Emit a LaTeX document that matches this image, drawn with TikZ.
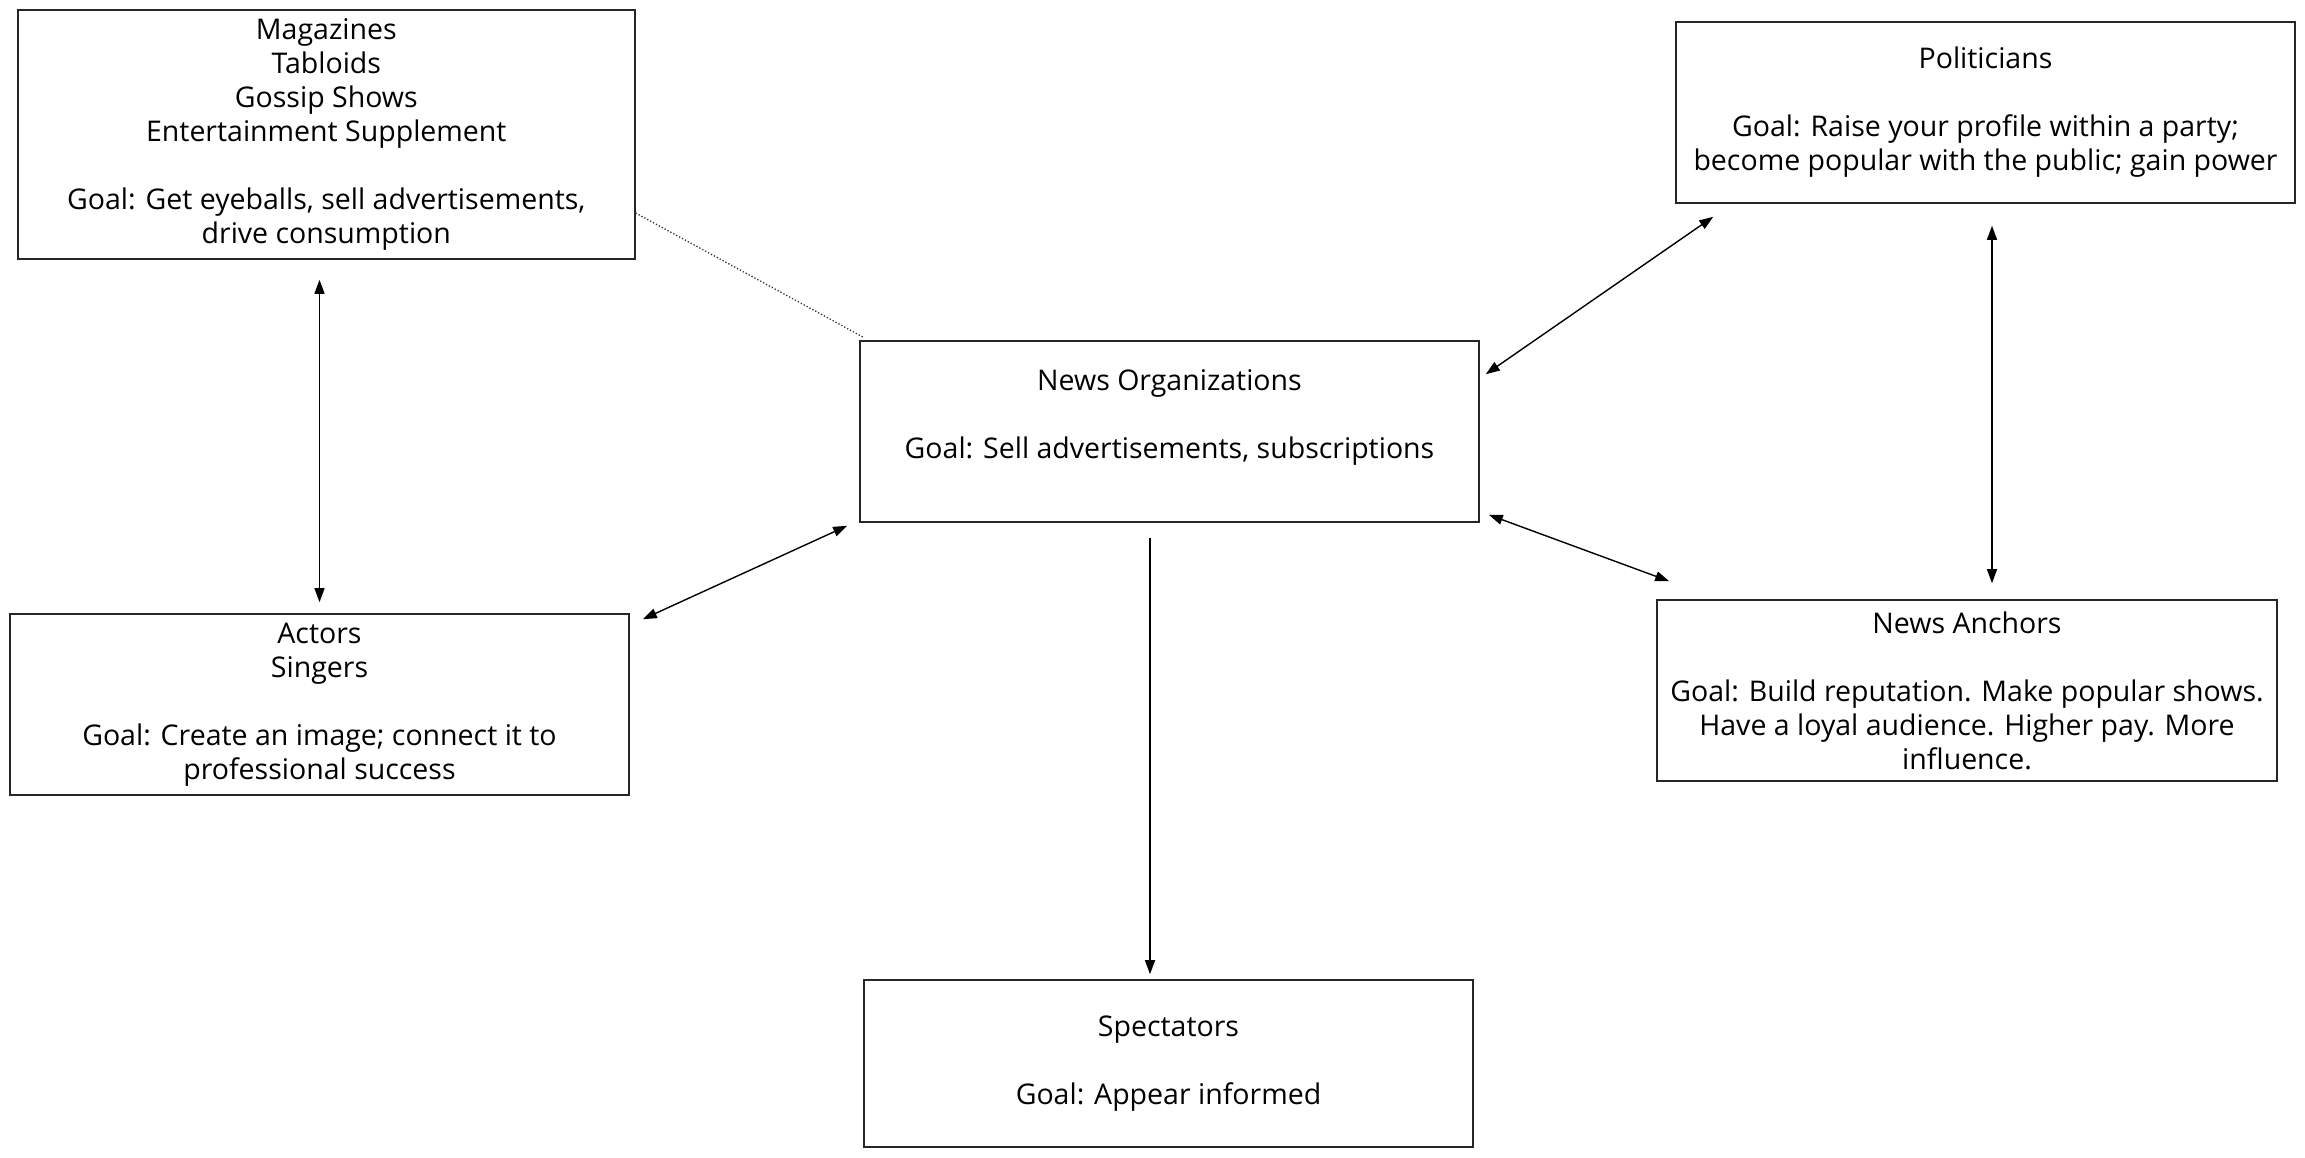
\documentclass[tikz,border=0pt]{standalone}
\usepackage{fontspec}
\setmainfont{Open Sans}
\usetikzlibrary{arrows.meta,calc}
\begin{document}
\begin{tikzpicture}[x=1pt,y=-1pt,
  box/.style={draw=black!85, line width=1.6pt, align=center, inner sep=0pt,
    font=\fontsize{28.5}{34}\selectfont},
  arr/.style={line width=1.4pt, black, {Triangle[length=14pt,width=10pt]}-{Triangle[length=14pt,width=10pt]}},
  arrone/.style={line width=1.4pt, black, -{Triangle[length=14pt,width=10pt]}},
  dots/.style={line width=1.3pt, dotted, black!80}]
\useasboundingbox (0,0) rectangle (2305,1158);
\node[box, minimum width=617pt, minimum height=249pt] (mag) at (326.3,134.5)
  {Magazines\\Tabloids\\Gossip Shows\\Entertainment Supplement\\[34pt]Goal: Get eyeballs, sell advertisements,\\drive consumption};
\node[box, minimum width=619pt, minimum height=181pt] (pol) at (1985.5,112.5)
  {Politicians\\[34pt]Goal: Raise your profile within a party;\\become popular with the public; gain power};
\node[box, minimum width=619pt, minimum height=181pt] (news) at (1169.5,431.5)
  {News Organizations\\[34pt]Goal: Sell advertisements, subscriptions\\\mbox{}};
\node[box, minimum width=619pt, minimum height=181pt] (act) at (319.5,704.5)
  {Actors\\Singers\\[34pt]Goal: Create an image; connect it to\\professional success};
\node[box, minimum width=620pt, minimum height=181pt] (anc) at (1967,690.5)
  {News Anchors\\[34pt]Goal: Build reputation. Make popular shows.\\Have a loyal audience. Higher pay. More\\influence.};
\node[box, minimum width=609pt, minimum height=167pt] (spec) at (1168.5,1063.5)
  {Spectators\\[34pt]Goal: Appear informed};
% connectors
\draw[arr] ([yshift=-20pt]act.north |- mag.south) -- ([yshift=11pt]act.north);
\draw[dots] (mag.east |- 0,213) -- ([shift={(4,-3)}]news.north west);
\draw[arr] ([shift={(13,6)}]act.north east) -- ([shift={(-12,3)}]news.south west);
\draw[arr] ([shift={(6,34)}]news.north east) -- ([shift={(38,13)}]pol.south west);
\draw[arr] ([shift={(6.5,22)}]pol.south) -- ([shift={(6.5,-16)}]pol.south |- anc.north);
\draw[arr] ([shift={(9,-8)}]news.south east) -- ([shift={(13,-18)}]anc.north west);
\draw[arrone] ([shift={(-19.5,15)}]news.south) -- ([shift={(-18.5,-5)}]spec.north);
\end{tikzpicture}
\end{document}
